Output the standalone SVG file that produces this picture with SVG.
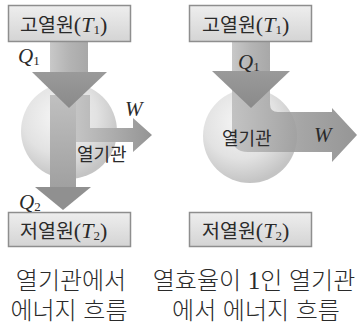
<svg xmlns="http://www.w3.org/2000/svg" width="360" height="327" viewBox="0 0 360 327">
<defs>
<linearGradient id="boxg" x1="0" y1="0" x2="0" y2="1"><stop offset="0" stop-color="#eeeeee"/><stop offset="1" stop-color="#d4d4d4"/></linearGradient>
<radialGradient id="ball" cx="0.4" cy="0.35" r="0.65"><stop offset="0" stop-color="#f6f6f6"/><stop offset="0.6" stop-color="#e2e2e2"/><stop offset="1" stop-color="#c4c4c4"/></radialGradient>
<linearGradient id="shaft" x1="0" y1="0" x2="1" y2="0"><stop offset="0" stop-color="#c8c8c8"/><stop offset="0.5" stop-color="#b4b4b4"/><stop offset="1" stop-color="#a8a8a8"/></linearGradient>
<linearGradient id="head" x1="0" y1="0" x2="0" y2="1"><stop offset="0" stop-color="#9a9a9a"/><stop offset="1" stop-color="#8a8a8a"/></linearGradient>
<linearGradient id="q2" x1="0" y1="0" x2="0" y2="1"><stop offset="0" stop-color="#c0c0c0"/><stop offset="1" stop-color="#a0a0a0"/></linearGradient>
<linearGradient id="wL" x1="0" y1="0" x2="1" y2="0"><stop offset="0" stop-color="#c4c4c4"/><stop offset="1" stop-color="#949494"/></linearGradient>
<linearGradient id="wR" x1="0" y1="0" x2="1" y2="0"><stop offset="0" stop-color="#bdbdbd"/><stop offset="0.55" stop-color="#9c9c9c"/><stop offset="1" stop-color="#8a8a8a"/></linearGradient>
</defs>
<style>
.box{fill:url(#boxg);stroke:#8e8e8e;stroke-width:1.5}
.ko{font-family:"Noto Sans CJK KR","Noto Sans",sans-serif;fill:#2a2a2a}
.cap{font-family:"Liberation Sans","Noto Sans CJK KR",sans-serif;fill:#2a2a2a;font-size:24px;font-weight:300;text-anchor:middle}
.m{font-family:"Liberation Serif",serif;font-style:italic;fill:#2a2a2a}
.n{font-family:"Liberation Serif",serif;font-style:normal;fill:#2a2a2a}
</style>

<g id="left-engine">
<circle cx="69" cy="131" r="48" fill="url(#ball)"/>
</g>
<g id="right-engine">
<circle cx="250" cy="136" r="47" fill="url(#ball)"/>
</g>

<g id="connectors">
<!-- left -->
<rect x="50" y="42" width="38" height="32" fill="url(#shaft)"/>
<rect x="50" y="95" width="26" height="93" fill="url(#q2)"/>
<path d="M76,95 H90 V128 H133 V118 L152,135 L133,152 V142 H76 Z" fill="url(#wL)"/>
<polygon points="35,187 91,187 63,210" fill="#909090"/>
<polygon points="32,72 107,72 69,108" fill="url(#head)"/>
<!-- right -->
<path d="M232,70 V136 Q232,152 248,152 H332 V162 L357,135 L332,108 V112 H278 Q270,112 270,104 V70 Z" fill="url(#wR)" opacity="0.9"/>
<rect x="232" y="42" width="38" height="32" fill="url(#shaft)"/>
<polygon points="212,71 290,71 251,108" fill="url(#head)"/>
</g>

<g id="hot-left">
<rect class="box" x="8.5" y="5.5" width="122" height="36"/>
<text x="20" y="32" class="ko" font-size="19.5">고열원<tspan class="n" font-size="22">(</tspan><tspan class="m" font-size="22">T</tspan><tspan class="n" font-size="13" dy="2">1</tspan><tspan class="n" font-size="22" dy="-2">)</tspan></text>
</g>
<g id="cold-left">
<rect class="box" x="8.5" y="212.5" width="122" height="34"/>
<text x="20" y="238" class="ko" font-size="19.5">저열원<tspan class="n" font-size="22">(</tspan><tspan class="m" font-size="22">T</tspan><tspan class="n" font-size="13" dy="2">2</tspan><tspan class="n" font-size="22" dy="-2">)</tspan></text>
</g>
<g id="hot-right">
<rect class="box" x="189.5" y="5.5" width="122" height="36"/>
<text x="202" y="32" class="ko" font-size="19.5">고열원<tspan class="n" font-size="22">(</tspan><tspan class="m" font-size="22">T</tspan><tspan class="n" font-size="13" dy="2">1</tspan><tspan class="n" font-size="22" dy="-2">)</tspan></text>
</g>
<g id="cold-right">
<rect class="box" x="189.5" y="212.5" width="122" height="34"/>
<text x="202" y="238" class="ko" font-size="19.5">저열원<tspan class="n" font-size="22">(</tspan><tspan class="m" font-size="22">T</tspan><tspan class="n" font-size="13" dy="2">2</tspan><tspan class="n" font-size="22" dy="-2">)</tspan></text>
</g>

<g id="labels">
<text x="18" y="63" class="m" font-size="21">Q<tspan class="n" font-size="13" dy="2">1</tspan></text>
<text x="19" y="209" class="m" font-size="21">Q<tspan class="n" font-size="13" dy="2">2</tspan></text>
<text x="125" y="116" class="m" font-size="21">W</text>
<text x="77" y="161" class="ko" font-size="18">열기관</text>
<text x="238" y="69" class="m" font-size="21">Q<tspan class="n" font-size="13" dy="2">1</tspan></text>
<text x="222" y="145" class="ko" font-size="18">열기관</text>
<text x="314" y="142" class="m" font-size="21">W</text>
</g>

<g id="captions">
<text x="71" y="289" class="cap">열기관에서</text>
<text x="69" y="319" class="cap">에너지 흐름</text>
<text x="254" y="289" class="cap">열효율이 <tspan class="n" font-size="25">1</tspan>인 열기관</text>
<text x="256" y="319" class="cap">에서 에너지 흐름</text>
</g>
</svg>
